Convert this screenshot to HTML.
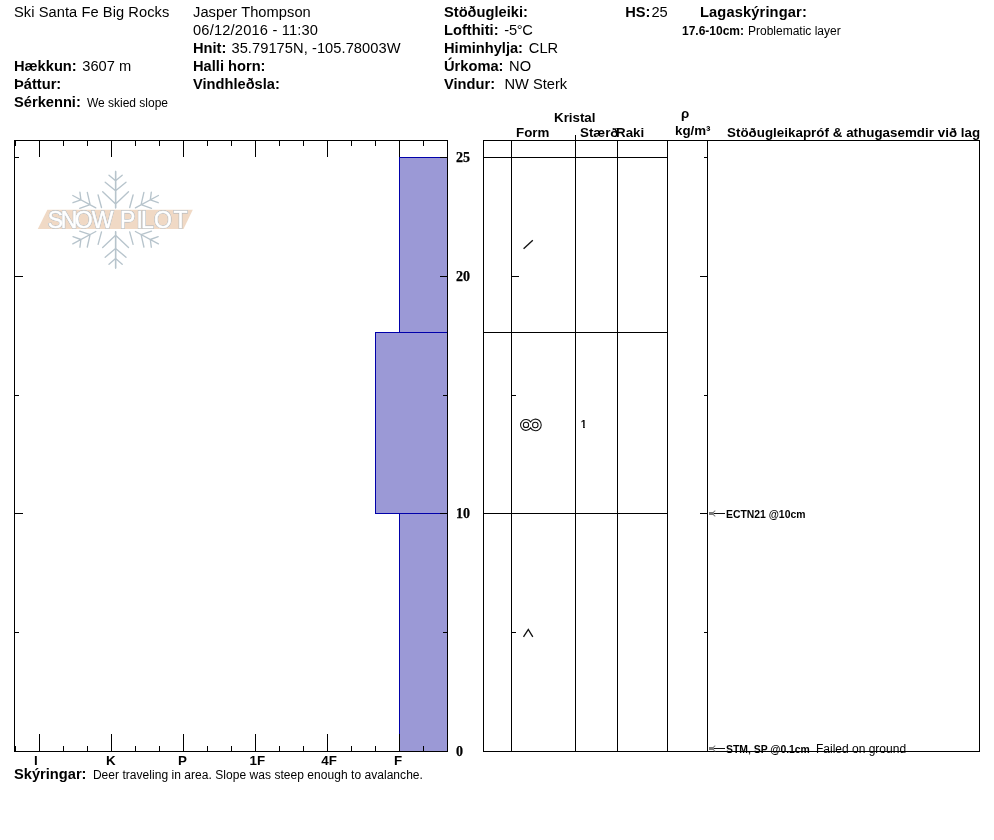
<!DOCTYPE html><html><head><meta charset="utf-8"><title>Snow Pilot</title>
<style>html,body{margin:0;padding:0;background:#fff}svg{display:block}text{font-family:"Liberation Sans",sans-serif;fill:#000;white-space:pre}.b{font-weight:bold}.h{font-size:14.67px}.s{font-size:12px}.t{font-family:"Liberation Serif",serif;font-weight:bold;font-size:14px;stroke:#000;stroke-width:.25px}.k{font-size:13.33px;font-weight:bold}.x{font-size:10.4px;font-weight:bold}</style></head><body>
<svg width="994" height="840" viewBox="0 0 994 840">
<rect width="994" height="840" fill="#fff"/>
<text x="14" y="17" class="h" letter-spacing="0.064">Ski Santa Fe Big Rocks</text>
<text x="14" y="71" class="h" ><tspan class="b">Hækkun:</tspan> <tspan dx="1.5">3607 m</tspan></text>
<text x="14" y="89" class="h" ><tspan class="b">Þáttur:</tspan></text>
<text x="14" y="107" class="h" ><tspan class="b">Sérkenni:</tspan> <tspan dx="2" class="s">We skied slope</tspan></text>
<text x="193" y="17" class="h" letter-spacing="0.05">Jasper Thompson</text>
<text x="193" y="35" class="h" letter-spacing="0.18">06/12/2016 - 11:30</text>
<text x="193" y="53" class="h" ><tspan class="b">Hnit:</tspan> <tspan dx="1" letter-spacing="0.057">35.79175N, -105.78003W</tspan></text>
<text x="193" y="71" class="h" ><tspan class="b">Halli horn:</tspan></text>
<text x="193" y="89" class="h" ><tspan class="b">Vindhleðsla:</tspan></text>
<text x="444" y="17" class="h" ><tspan class="b">Stöðugleiki:</tspan></text>
<text x="444" y="35" class="h" ><tspan class="b">Lofthiti:</tspan> <tspan dx="1.75" letter-spacing="-0.3">-5°C</tspan></text>
<text x="444" y="53" class="h" ><tspan class="b">Himinhylja:</tspan> <tspan dx="1.75">CLR</tspan></text>
<text x="444" y="71" class="h" ><tspan class="b">Úrkoma:</tspan> <tspan dx="1.5">NO</tspan></text>
<text x="444" y="89" class="h" ><tspan class="b">Vindur:</tspan>  <tspan dx="1.25">NW Sterk</tspan></text>
<text x="625.2" y="17" class="h" ><tspan class="b">HS:</tspan><tspan dx="1">25</tspan></text>
<text x="700" y="17" class="h" letter-spacing="0.13"><tspan class="b">Lagaskýringar:</tspan></text>
<text x="682" y="35" class="s" ><tspan class="b">17.6-10cm:</tspan> <tspan dx="0.6">Problematic layer</tspan></text>
<text x="554" y="122" class="k" >Kristal</text>
<text x="516" y="137" class="k" >Form</text>
<text x="580" y="137" class="k" >Stærð</text>
<text x="616" y="137" class="k" >Raki</text>
<text x="681" y="118" class="k" >ρ</text>
<text x="675" y="135" class="k" >kg/m³</text>
<text x="727" y="137" class="k" letter-spacing="0.037">Stöðugleikapróf &amp; athugasemdir við lag</text>
<rect x="399.5" y="157.5" width="48" height="175" fill="#9b99d6" stroke="#0000aa" stroke-width="1"/>
<rect x="375.5" y="332.5" width="72" height="181" fill="#9b99d6" stroke="#0000aa" stroke-width="1"/>
<rect x="399.5" y="513.5" width="48" height="238" fill="#9b99d6" stroke="#0000aa" stroke-width="1"/>
<g fill="none" stroke="#b7c4cc" stroke-width="1.35" stroke-linecap="round">
<path transform="translate(115.6 219.7) scale(1 1)" d="M0 -12V-48.3M0 -38.9L-6.6 -44.5M0 -28.9L-10.4 -37.5M0 -15.6L-12.9 -27.9M-17.5 -24.7L-14.1 -12.2M-19.8 -11.8L-42.8 -24.2M-34.7 -19.8L-35.7 -27.5M-34.7 -19.8L-42.6 -17M-25.5 -15L-28.3 -27.3M-25.5 -15L-35.9 -11.4"/>
<path transform="translate(115.6 219.7) scale(-1 1)" d="M0 -12V-48.3M0 -38.9L-6.6 -44.5M0 -28.9L-10.4 -37.5M0 -15.6L-12.9 -27.9M-17.5 -24.7L-14.1 -12.2M-19.8 -11.8L-42.8 -24.2M-34.7 -19.8L-35.7 -27.5M-34.7 -19.8L-42.6 -17M-25.5 -15L-28.3 -27.3M-25.5 -15L-35.9 -11.4"/>
<path transform="translate(115.6 219.7) scale(1 -1)" d="M0 -12V-48.3M0 -38.9L-6.6 -44.5M0 -28.9L-10.4 -37.5M0 -15.6L-12.9 -27.9M-17.5 -24.7L-14.1 -12.2M-19.8 -11.8L-42.8 -24.2M-34.7 -19.8L-35.7 -27.5M-34.7 -19.8L-42.6 -17M-25.5 -15L-28.3 -27.3M-25.5 -15L-35.9 -11.4"/>
<path transform="translate(115.6 219.7) scale(-1 -1)" d="M0 -12V-48.3M0 -38.9L-6.6 -44.5M0 -28.9L-10.4 -37.5M0 -15.6L-12.9 -27.9M-17.5 -24.7L-14.1 -12.2M-19.8 -11.8L-42.8 -24.2M-34.7 -19.8L-35.7 -27.5M-34.7 -19.8L-42.6 -17M-25.5 -15L-28.3 -27.3M-25.5 -15L-35.9 -11.4"/>
</g>
<path d="M47.4 209.8H192.8L183.5 228.9H37.8Z" fill="#f0d9c5"/>
<text x="47.8 60.8 74.8 91.7 114 120 136.4 141 153.9 173.5" y="227.7" style="font-size:23px;fill:#acb6be;stroke:#acb6be;stroke-width:1.5px">SNOW PILOT</text>
<text x="47.8 60.8 74.8 91.7 114 120 136.4 141 153.9 173.5" y="227.7" style="font-size:23px;fill:#fff;stroke:#fff;stroke-width:.55px">SNOW PILOT</text>
<path d="M14.5 140L14.5 752M447.5 140L447.5 752M14 140.5L448 140.5M14 751.5L448 751.5M15.5 141L15.5 146M15.5 746L15.5 751M39.5 141L39.5 157M39.5 734L39.5 751M63.5 141L63.5 146M63.5 746L63.5 751M87.5 141L87.5 146M87.5 746L87.5 751M111.5 141L111.5 157M111.5 734L111.5 751M135.5 141L135.5 146M135.5 746L135.5 751M159.5 141L159.5 146M159.5 746L159.5 751M183.5 141L183.5 157M183.5 734L183.5 751M207.5 141L207.5 146M207.5 746L207.5 751M231.5 141L231.5 146M231.5 746L231.5 751M255.5 141L255.5 157M255.5 734L255.5 751M279.5 141L279.5 146M279.5 746L279.5 751M303.5 141L303.5 146M303.5 746L303.5 751M327.5 141L327.5 157M327.5 734L327.5 751M351.5 141L351.5 146M351.5 746L351.5 751M375.5 141L375.5 146M375.5 746L375.5 751M399.5 141L399.5 157M399.5 734L399.5 751M423.5 141L423.5 146M423.5 746L423.5 751M447.5 141L447.5 146M447.5 746L447.5 751M15 157.5L19 157.5M440 157.5L447 157.5M512 157.5L516 157.5M704 157.5L707 157.5M15 276.5L23 276.5M440 276.5L447 276.5M512 276.5L519 276.5M700 276.5L707 276.5M15 395.5L19 395.5M443 395.5L447 395.5M512 395.5L516 395.5M704 395.5L707 395.5M15 513.5L23 513.5M440 513.5L447 513.5M512 513.5L519 513.5M700 513.5L707 513.5M15 632.5L19 632.5M443 632.5L447 632.5M512 632.5L516 632.5M704 632.5L707 632.5M483.5 140L483.5 752M979.5 140L979.5 752M483 140.5L980 140.5M483 751.5L980 751.5M511.5 140L511.5 752M575.5 135L575.5 752M617.5 140L617.5 752M667.5 140L667.5 752M707.5 140L707.5 752M484 157.5L668 157.5M484 332.5L668 332.5M484 513.5L668 513.5" stroke="#000" stroke-width="1" fill="none" shape-rendering="crispEdges"/>
<text x="456" y="162" class="t" >25</text>
<text x="456" y="281" class="t" >20</text>
<text x="456" y="518" class="t" >10</text>
<text x="456" y="756" class="t" >0</text>
<text x="34" y="765" class="k" >I</text>
<text x="106" y="765" class="k" >K</text>
<text x="178" y="765" class="k" >P</text>
<text x="249.5" y="765" class="k" >1F</text>
<text x="321.3" y="765" class="k" >4F</text>
<text x="394" y="765" class="k" >F</text>
<text x="14" y="779" class="h" ><tspan class="b">Skýringar:</tspan> <tspan class="s" dx="2.3" letter-spacing="0.042">Deer traveling in area. Slope was steep enough to avalanche.</tspan></text>
<path d="M523.6 248.8L532.8 240.2" stroke="#111" stroke-width="1.35" fill="none"/>
<g stroke="#111" stroke-width="1.05" fill="none"><path d="M530.57 421.94A5.45 5.45 0 1 0 530.57 427.86A5.75 5.75 0 1 0 530.57 421.94Z"/><circle cx="526" cy="424.9" r="2.65"/><circle cx="535.3" cy="424.9" r="2.75"/></g>
<path d="M523.5 636.8L528.3 629.5L532.8 636.8" stroke="#111" stroke-width="1.35" fill="none"/>
<clipPath id="c1"><path d="M578 415H590V425.9H584.8V429H583.1V425.9H578Z"/></clipPath>
<text x="580.8" y="428" class="x" clip-path="url(#c1)">1</text>
<path d="M713.5 513.5H725" stroke="#111" stroke-width="1" shape-rendering="crispEdges"/>
<path d="M709 511.9H713L715 510.2L715.6 511.0L713.9 512.5V514.5L715.6 516.0L715 516.8L713 515.1H709Z" fill="#7a7a7a"/>
<text x="726" y="517.5" class="x" >ECTN21 @10cm</text>
<path d="M713.5 748.5H725" stroke="#111" stroke-width="1" shape-rendering="crispEdges"/>
<path d="M709 746.9H713L715 745.2L715.6 746.0L713.9 747.5V749.5L715.6 751.0L715 751.8L713 750.1H709Z" fill="#7a7a7a"/>
<text x="726" y="752.5" class="x" >STM, SP @0.1cm</text>
<text x="816" y="752.5" class="s" >Failed on ground</text>
</svg></body></html>
